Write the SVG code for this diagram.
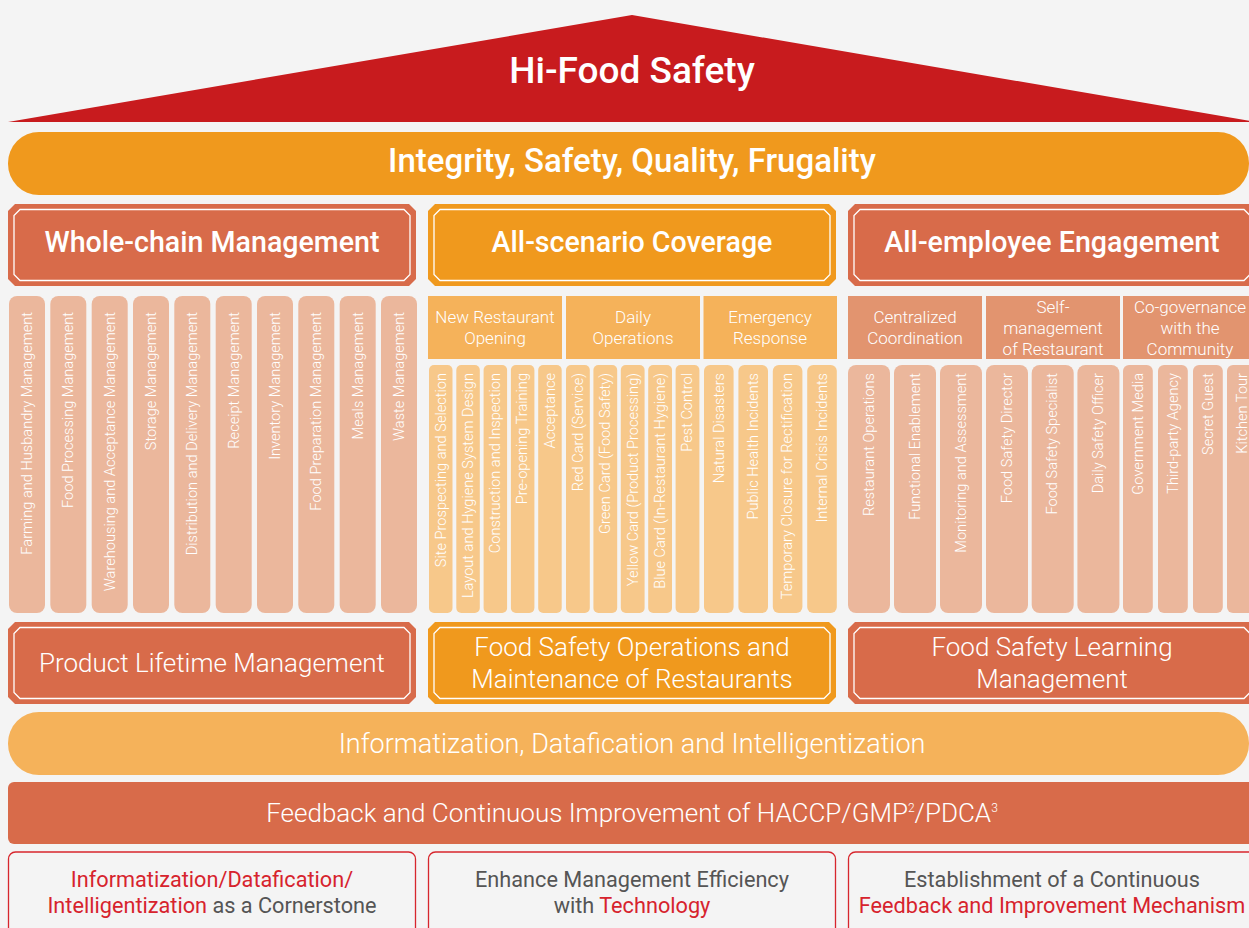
<svg xmlns="http://www.w3.org/2000/svg" width="1249" height="928" viewBox="0 0 1249 928">
<style>
text{font-family:Roboto,"Liberation Sans",Arial,sans-serif;fill:#fff}
.title{font-size:37px;font-weight:500}
.band{font-size:33px;font-weight:500}
.head{font-size:28.6px;font-weight:500}
.foot{font-size:26px;font-weight:300}
.sub{font-size:17px;font-weight:300}
.v{font-size:14.6px;font-weight:300}
.bt{font-size:21.7px;font-weight:400;fill:#555}
.red{fill:#D7232D}
.inner{fill:none;stroke:#fff;stroke-width:1.3}
.pl{fill:#EBB79C}
.pm{fill:#F7C88A}
.hm{fill:#F5B25A}
.hr{fill:#E2946F}
.oct-t{fill:#D86B4A}
.oct-o{fill:#F0991D}
.box{fill:none;stroke:#D7262D;stroke-width:1.3}
</style>
<rect width="1249" height="928" fill="#F4F4F4"/>

<g id="roof">
<polygon points="8,122 632,15 1256,122" fill="#C81B1E"/>
<text class="title" x="632" y="83" text-anchor="middle">Hi-Food Safety</text>
</g>

<g id="values">
<rect x="8" y="132" width="1241" height="63" rx="31" fill="#F0991D"/>
<text class="band" x="632" y="172" text-anchor="middle">Integrity, Safety, Quality, Frugality</text>
</g>

<g id="whole-chain">
<path class="oct-t" d="M15,204H409L416,211V279L409,286H15L8,279V211Z"/>
<path class="inner" d="M20,209.5H404L410,215.5V274.5L404,280.5H20L14,274.5V215.5Z"/>
<text class="head" x="212" y="252" text-anchor="middle">Whole-chain Management</text>
</g>
<g id="all-scenario">
<path class="oct-o" d="M435,204H829L836,211V279L829,286H435L428,279V211Z"/>
<path class="inner" d="M440,209.5H824L830,215.5V274.5L824,280.5H440L434,274.5V215.5Z"/>
<text class="head" x="632" y="252" text-anchor="middle">All-scenario Coverage</text>
</g>
<g id="all-employee">
<path class="oct-t" d="M855,204H1249L1256,211V279L1249,286H855L848,279V211Z"/>
<path class="inner" d="M860,209.5H1244L1250,215.5V274.5L1244,280.5H860L854,274.5V215.5Z"/>
<text class="head" x="1052" y="252" text-anchor="middle">All-employee Engagement</text>
</g>

<g id="whole-chain-items">
<rect class="pl" x="9" y="296" width="36" height="317" rx="8"/>
<rect class="pl" x="50.3" y="296" width="36" height="317" rx="8"/>
<rect class="pl" x="91.7" y="296" width="36" height="317" rx="8"/>
<rect class="pl" x="133" y="296" width="36" height="317" rx="8"/>
<rect class="pl" x="174.3" y="296" width="36" height="317" rx="8"/>
<rect class="pl" x="215.7" y="296" width="36" height="317" rx="8"/>
<rect class="pl" x="257" y="296" width="36" height="317" rx="8"/>
<rect class="pl" x="298.3" y="296" width="36" height="317" rx="8"/>
<rect class="pl" x="339.7" y="296" width="36" height="317" rx="8"/>
<rect class="pl" x="381" y="296" width="36" height="317" rx="8"/>
<g class="v" text-anchor="end">
<text transform="translate(32,312) rotate(-90)">Farming and Husbandry Management</text>
<text transform="translate(73.3,312) rotate(-90)">Food Processing Management</text>
<text transform="translate(114.7,312) rotate(-90)">Warehousing and Acceptance Management</text>
<text transform="translate(156,312) rotate(-90)">Storage Management</text>
<text transform="translate(197.3,312) rotate(-90)">Distribution and Delivery Management</text>
<text transform="translate(238.7,312) rotate(-90)">Receipt Management</text>
<text transform="translate(280,312) rotate(-90)">Inventory Management</text>
<text transform="translate(321.3,312) rotate(-90)">Food Preparation Management</text>
<text transform="translate(362.7,312) rotate(-90)">Meals Management</text>
<text transform="translate(404,312) rotate(-90)">Waste Management</text>
</g>
</g>

<g id="new-restaurant">
<rect class="hm" x="428" y="296" width="134" height="63"/>
<text class="sub" text-anchor="middle"><tspan x="495" y="323">New Restaurant</tspan><tspan x="495" y="344">Opening</tspan></text>
<rect class="pm" x="429" y="365" width="23.5" height="248" rx="5"/>
<rect class="pm" x="456.3" y="365" width="23.5" height="248" rx="5"/>
<rect class="pm" x="483.6" y="365" width="23.5" height="248" rx="5"/>
<rect class="pm" x="510.9" y="365" width="23.5" height="248" rx="5"/>
<rect class="pm" x="538.2" y="365" width="23.5" height="248" rx="5"/>
<g class="v" text-anchor="end">
<text transform="translate(445.5,373) rotate(-90)">Site Prospecting and Selection</text>
<text transform="translate(472.8,373) rotate(-90)">Layout and Hygiene System Design</text>
<text transform="translate(500.1,373) rotate(-90)">Construction and Inspection</text>
<text transform="translate(527.4,373) rotate(-90)">Pre-opening Training</text>
<text transform="translate(554.7,373) rotate(-90)">Acceptance</text>
</g>
</g>

<g id="daily-operations">
<rect class="hm" x="566" y="296" width="134" height="63"/>
<text class="sub" text-anchor="middle"><tspan x="633" y="323">Daily</tspan><tspan x="633" y="344">Operations</tspan></text>
<rect class="pm" x="566" y="365" width="23.8" height="248" rx="5"/>
<rect class="pm" x="593.4" y="365" width="23.8" height="248" rx="5"/>
<rect class="pm" x="620.8" y="365" width="23.8" height="248" rx="5"/>
<rect class="pm" x="648.2" y="365" width="23.8" height="248" rx="5"/>
<rect class="pm" x="675.6" y="365" width="23.8" height="248" rx="5"/>
<g class="v" text-anchor="end">
<text transform="translate(582.7,373) rotate(-90)">Red Card (Service)</text>
<text transform="translate(610.1,373) rotate(-90)">Green Card (Food Safety)</text>
<text transform="translate(637.5,373) rotate(-90)">Yellow Card (Product Processing)</text>
<text transform="translate(664.9,373) rotate(-90)">Blue Card (In-Restaurant Hygiene)</text>
<text transform="translate(692.3,373) rotate(-90)">Pest Control</text>
</g>
</g>

<g id="emergency-response">
<rect class="hm" x="703.5" y="296" width="133.5" height="63"/>
<text class="sub" text-anchor="middle"><tspan x="770" y="323">Emergency</tspan><tspan x="770" y="344">Response</tspan></text>
<rect class="pm" x="704" y="365" width="29.6" height="248" rx="6"/>
<rect class="pm" x="738.4" y="365" width="29.6" height="248" rx="6"/>
<rect class="pm" x="772.8" y="365" width="29.6" height="248" rx="6"/>
<rect class="pm" x="807.2" y="365" width="29.6" height="248" rx="6"/>
<g class="v" text-anchor="end">
<text transform="translate(723.5,373) rotate(-90)">Natural Disasters</text>
<text transform="translate(757.9,373) rotate(-90)">Public Health Incidents</text>
<text transform="translate(792.3,373) rotate(-90)">Temporary Closure for Rectification</text>
<text transform="translate(826.7,373) rotate(-90)">Internal Crisis Incidents</text>
</g>
</g>

<g id="centralized-coordination">
<rect class="hr" x="848" y="296" width="134" height="63"/>
<text class="sub" text-anchor="middle"><tspan x="915" y="323">Centralized</tspan><tspan x="915" y="344">Coordination</tspan></text>
<rect class="pl" x="848" y="365" width="42" height="248" rx="8"/>
<rect class="pl" x="894" y="365" width="42" height="248" rx="8"/>
<rect class="pl" x="940" y="365" width="42" height="248" rx="8"/>
<g class="v" text-anchor="end">
<text transform="translate(873.5,373) rotate(-90)">Restaurant Operations</text>
<text transform="translate(919.5,373) rotate(-90)">Functional Enablement</text>
<text transform="translate(965.5,373) rotate(-90)">Monitoring and Assessment</text>
</g>
</g>

<g id="self-management">
<rect class="hr" x="986" y="296" width="134" height="63"/>
<text class="sub" text-anchor="middle"><tspan x="1053" y="313">Self-</tspan><tspan x="1053" y="334">management</tspan><tspan x="1053" y="355">of Restaurant</tspan></text>
<rect class="pl" x="986" y="365" width="42" height="248" rx="8"/>
<rect class="pl" x="1031.7" y="365" width="42" height="248" rx="8"/>
<rect class="pl" x="1077.4" y="365" width="42" height="248" rx="8"/>
<g class="v" text-anchor="end">
<text transform="translate(1011.5,373) rotate(-90)">Food Safety Director</text>
<text transform="translate(1057.2,373) rotate(-90)">Food Safety Specialist</text>
<text transform="translate(1102.9,373) rotate(-90)">Daily Safety Officer</text>
</g>
</g>

<g id="co-governance">
<rect class="hr" x="1123" y="296" width="134" height="63"/>
<text class="sub" text-anchor="middle"><tspan x="1190" y="313">Co-governance</tspan><tspan x="1190" y="334">with the</tspan><tspan x="1190" y="355">Community</tspan></text>
<rect class="pl" x="1123" y="365" width="29.8" height="248" rx="6"/>
<rect class="pl" x="1158" y="365" width="29.8" height="248" rx="6"/>
<rect class="pl" x="1193" y="365" width="29.8" height="248" rx="6"/>
<rect class="pl" x="1227" y="365" width="29.8" height="248" rx="6"/>
<g class="v" text-anchor="end">
<text transform="translate(1142.6,373) rotate(-90)">Government Media</text>
<text transform="translate(1177.6,373) rotate(-90)">Third-party Agency</text>
<text transform="translate(1212.6,373) rotate(-90)">Secret Guest</text>
<text transform="translate(1246.6,373) rotate(-90)">Kitchen Tour</text>
</g>
</g>

<g id="product-lifetime">
<path class="oct-t" d="M15,622H409L416,629V697L409,704H15L8,697V629Z"/>
<path class="inner" d="M20,627.5H404L410,633.5V692.5L404,698.5H20L14,692.5V633.5Z"/>
<text class="foot" x="212" y="672" text-anchor="middle">Product Lifetime Management</text>
</g>
<g id="operations-maintenance">
<path class="oct-o" d="M435,622H829L836,629V697L829,704H435L428,697V629Z"/>
<path class="inner" d="M440,627.5H824L830,633.5V692.5L824,698.5H440L434,692.5V633.5Z"/>
<text class="foot" text-anchor="middle"><tspan x="632" y="656">Food Safety Operations and</tspan><tspan x="632" y="688">Maintenance of Restaurants</tspan></text>
</g>
<g id="learning-management">
<path class="oct-t" d="M855,622H1249L1256,629V697L1249,704H855L848,697V629Z"/>
<path class="inner" d="M860,627.5H1244L1250,633.5V692.5L1244,698.5H860L854,692.5V633.5Z"/>
<text class="foot" text-anchor="middle"><tspan x="1052" y="656">Food Safety Learning</tspan><tspan x="1052" y="688">Management</tspan></text>
</g>

<g id="digital">
<rect x="8" y="712" width="1241" height="63" rx="31" fill="#F5B25A"/>
<text class="foot" x="632" y="753" text-anchor="middle" style="font-size:27px">Informatization, Datafication and Intelligentization</text>
</g>

<g id="feedback">
<rect x="8" y="782" width="1252" height="62" rx="6" fill="#D86B4A"/>
<text class="foot" x="632" y="822" text-anchor="middle">Feedback and Continuous Improvement of HACCP/GMP<tspan dy="-10" style="font-size:12px">2</tspan><tspan dy="10">/PDCA</tspan><tspan dy="-10" style="font-size:12px">3</tspan></text>
</g>

<g id="cornerstone">
<rect class="box" x="8.5" y="852" width="407" height="100" rx="7"/>
<text class="bt" text-anchor="middle"><tspan x="212" y="887" class="red">Informatization/Datafication/</tspan><tspan x="212" y="913"><tspan class="red">Intelligentization</tspan> as a Cornerstone</tspan></text>
</g>
<g id="efficiency">
<rect class="box" x="428.5" y="852" width="407" height="100" rx="7"/>
<text class="bt" text-anchor="middle"><tspan x="632" y="887">Enhance Management Efficiency</tspan><tspan x="632" y="913">with <tspan class="red">Technology</tspan></tspan></text>
</g>
<g id="mechanism">
<rect class="box" x="848.5" y="852" width="410" height="100" rx="7"/>
<text class="bt" text-anchor="middle"><tspan x="1052" y="887">Establishment of a Continuous</tspan><tspan x="1052" y="913" class="red">Feedback and Improvement Mechanism</tspan></text>
</g>
</svg>
